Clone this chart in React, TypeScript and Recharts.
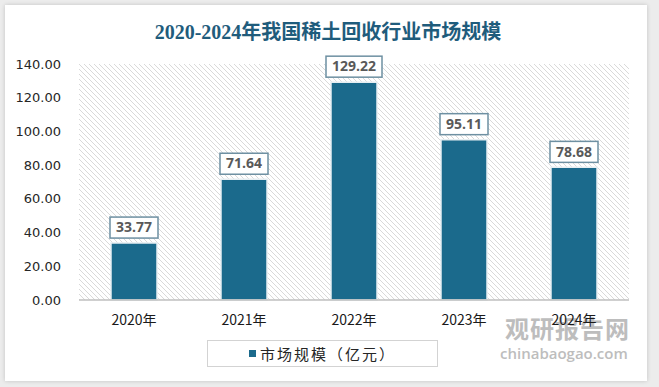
import React from 'react';
import { BarChart, Bar, XAxis, YAxis, CartesianGrid, LabelList } from 'recharts';

const years = ['2020年', '2021年', '2022年', '2023年', '2024年'];
const marketSize = [33.77, 71.64, 129.22, 95.11, 78.68];
const yTicks = [0, 20, 40, 60, 80, 100, 120, 140];

const title = '2020-2024年我国稀土回收行业市场规模';
const seriesName = '市场规模（亿元）';

const BAR_COLOR = '#1b6a8c';

const data = years.map((year, i) => ({ year, value: marketSize[i] }));

// boxed value label above each bar
const ValueLabel = (props: any) => {
  const { x, y, width, value } = props;
  const text = Number(value).toFixed(2);
  const boxW = text.length * 8 + 8;
  const boxH = 21;
  const cx = x + width / 2;
  const top = y - boxH - 5;
  return (
    <g>
      <rect x={cx - boxW / 2} y={top} width={boxW} height={boxH} fill="#fff" stroke="#6e90a2" strokeWidth={1.5} />
      <text
        x={cx}
        y={top + boxH / 2 + 1}
        textAnchor="middle"
        dominantBaseline="middle"
        fontFamily='"Open Sans", sans-serif'
        fontWeight="bold"
        fontSize={14}
        fill="#595959"
      >
        {text}
      </text>
    </g>
  );
};

export default function App() {
  return (
    <div style={{ position: 'relative', width: 659, height: 387, background: '#ececec', overflow: 'hidden' }}>
      <style>{'body{margin:0}'}</style>
      <div
        style={{
          position: 'absolute',
          left: 5,
          top: 5,
          width: 642,
          height: 376,
          background: '#fff',
          boxShadow: '0 0 4px rgba(0,0,0,0.18)',
        }}
      />
      <div
        style={{
          position: 'absolute',
          left: 0,
          top: 19,
          width: 656,
          textAlign: 'center',
          fontFamily: '"Liberation Serif", "Noto Sans CJK SC", serif',
          fontWeight: 'bold',
          fontSize: 20,
          color: '#1f5c7c',
          lineHeight: '26px',
        }}
      >
        {title}
      </div>
      {/* watermark */}
      <div
        style={{
          position: 'absolute',
          left: 505,
          top: 313,
          fontFamily: '"Noto Sans CJK SC", sans-serif',
          fontWeight: 'bold',
          fontSize: 24,
          color: '#bdbdbd',
          lineHeight: '30px',
          letterSpacing: 1,
        }}
      >
        观研报告网
      </div>
      <div
        style={{
          position: 'absolute',
          left: 500,
          top: 343,
          fontFamily: '"Open Sans", sans-serif',
          fontWeight: 600,
          fontSize: 15,
          color: '#bdbdbd',
          lineHeight: '20px',
        }}
      >
        chinabaogao.com
      </div>
      <div style={{ position: 'absolute', left: 0, top: 0 }}>
        <BarChart
          width={659}
          height={387}
          data={data}
          margin={{ top: 64, right: 30, left: 19, bottom: 57 }}
          barSize={46}
        >
          <defs>
            <pattern id="hatch" patternUnits="userSpaceOnUse" width="5" height="5">
              <path d="M-1,4 l2,2 M0,0 l5,5 M4,-1 l2,2" stroke="#d9d9d9" strokeWidth={1} />
            </pattern>
          </defs>
          <CartesianGrid fill="url(#hatch)" stroke="none" horizontal={false} vertical={false} />
          <XAxis
            dataKey="year"
            axisLine={{ stroke: '#bfbfbf', strokeWidth: 1.5 }}
            tickLine={false}
            tickMargin={9}
            height={30}
            tick={{ fill: '#1a1a1a', fontSize: 14, fontFamily: '"Noto Sans CJK SC", sans-serif' }}
          />
          <YAxis
            domain={[0, 140]}
            ticks={yTicks}
            width={60}
            axisLine={false}
            tickLine={false}
            tickMargin={12}
            tickFormatter={(v: number) => v.toFixed(2)}
            tick={{ fill: '#262626', fontSize: 13, fontFamily: '"DejaVu Sans", sans-serif' }}
          />
          <Bar dataKey="value" fill={BAR_COLOR} stroke="#e6eef2" strokeWidth={1.5} isAnimationActive={false}>
            <LabelList dataKey="value" content={ValueLabel} />
          </Bar>
        </BarChart>
      </div>
      {/* legend */}
      <div
        style={{
          position: 'absolute',
          left: 207,
          top: 340,
          width: 231,
          height: 27,
          border: '1px solid #d3d3d3',
          background: '#fff',
          boxSizing: 'border-box',
          display: 'flex',
          alignItems: 'center',
          justifyContent: 'center',
          fontFamily: '"Noto Sans CJK SC", sans-serif',
          fontSize: 15,
          color: '#262626',
          letterSpacing: 2,
        }}
      >
        <span style={{ width: 7, height: 7, background: BAR_COLOR, marginRight: 4, display: 'inline-block' }} />
        <span>{seriesName}</span>
      </div>
    </div>
  );
}
